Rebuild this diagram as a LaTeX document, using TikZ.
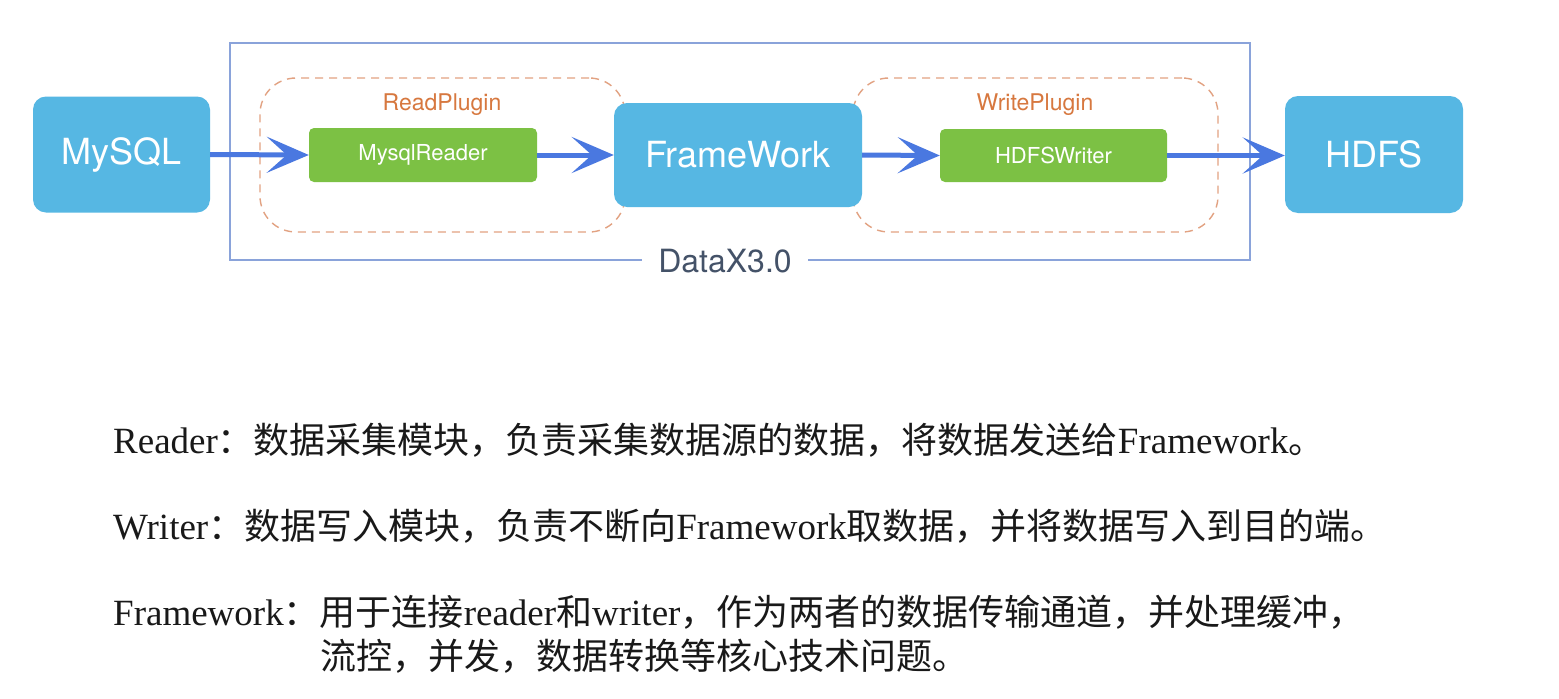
\documentclass[tikz,border=0pt]{standalone}
\usepackage{fontspec}
\usetikzlibrary{arrows.meta}
\setmainfont{Liberation Serif}
\newfontfamily\cjk{Noto Sans CJK SC}
\newfontfamily\hv{TeX Gyre Heros}
\definecolor{boxblue}{HTML}{56B7E3}
\definecolor{boxgreen}{HTML}{7CC144}
\definecolor{arrowblue}{HTML}{4A78E0}
\definecolor{outerblue}{HTML}{8AA3DA}
\definecolor{dashorange}{HTML}{E2A282}
\definecolor{plugintext}{HTML}{D7783F}
\definecolor{dataxtext}{HTML}{445268}
\newcommand\zh[1]{{\fontsize{36}{40}\cjk #1}}
\tikzset{
  bigbox/.style={fill=boxblue, rounded corners=13pt, inner sep=0pt, text=white,
    font=\hv\fontsize{36}{40}\selectfont},
  greenbox/.style={fill=boxgreen, rounded corners=5pt, inner sep=0pt, text=white,
    font=\hv\fontsize{22}{24}\selectfont},
  pluginbox/.style={draw=dashorange, line width=1.4pt, dash pattern=on 8pt off 6pt,
    rounded corners=36pt, inner sep=0pt},
  pluginlabel/.style={text=plugintext, inner sep=0pt, font=\hv\fontsize{23}{26}\selectfont},
  outerbox/.style={draw=outerblue, line width=1.4pt, inner sep=0pt},
  flow/.style={draw=arrowblue, line width=5pt,
    -{Stealth[length=42pt, width=36pt, inset=20pt]}},
  textline/.style={anchor=base west, inner sep=0pt, text=black!90,
    font=\fontsize{37}{40}\selectfont}
}
\begin{document}
\begin{tikzpicture}[x=1pt, y=-1pt]
\useasboundingbox (0,0) rectangle (1559,699);
\fill[white] (0,0) rectangle (1559,699);

% outer DataX frame
\node[outerbox, minimum width=1020pt, minimum height=217pt] (datax) at (740,151.5) {};
\node[fill=white, inner xsep=16pt, inner ysep=2pt, text=dataxtext,
  font=\hv\fontsize{32}{36}\selectfont] (dataxlabel) at (725,261) {DataX3.0};

% plugin dashed boxes
\node[pluginbox, minimum width=365pt, minimum height=154pt] (rp) at (442.5,155) {};
\node[pluginbox, minimum width=365pt, minimum height=154pt] (wp) at (1035.5,155) {};
\node[pluginlabel] (rplabel) at (442,105) {ReadPlugin};
\node[pluginlabel] (wplabel) at (1035,105) {WritePlugin};

% main boxes
\node[bigbox, minimum width=177pt, minimum height=116pt] (mysql) at (121.5,154.5) {MySQL};
\node[bigbox, minimum width=248pt, minimum height=104pt] (fw) at (738,155) {FrameWork};
\node[bigbox, minimum width=178pt, minimum height=117pt] (hdfs) at (1374,154.5) {HDFS};
\node[greenbox, minimum width=228pt, minimum height=54pt] (mr) at (423,155) {MysqlReader};
\node[greenbox, minimum width=227pt, minimum height=53pt] (hw) at (1053.5,155.5) {HDFSWriter};

% arrows
\draw[flow] (mysql.east) -- (mr.west);
\draw[flow] (mr.east) -- (fw.west);
\draw[flow] (fw.east) -- (hw.west);
\draw[flow] (hw.east) -- (hdfs.west |- hw.east);

% description text
\node[textline] (t1) at (113,453) {Reader\zh{：数据采集模块，负责采集数据源的数据，将数据发送给}Framework\zh{。}};
\node[textline] (t2) at (113,539) {Writer\zh{：数据写入模块，负责不断向}Framework\zh{取数据，并将数据写入到目的端。}};
\node[textline] (t3) at (113,625) {Framework\zh{：用于连接}reader\zh{和}writer\zh{，作为两者的数据传输通道，并处理缓冲，}};
\node[textline] (t4) at (320,669) {\zh{流控，并发，数据转换等核心技术问题。}};
\end{tikzpicture}
\end{document}
